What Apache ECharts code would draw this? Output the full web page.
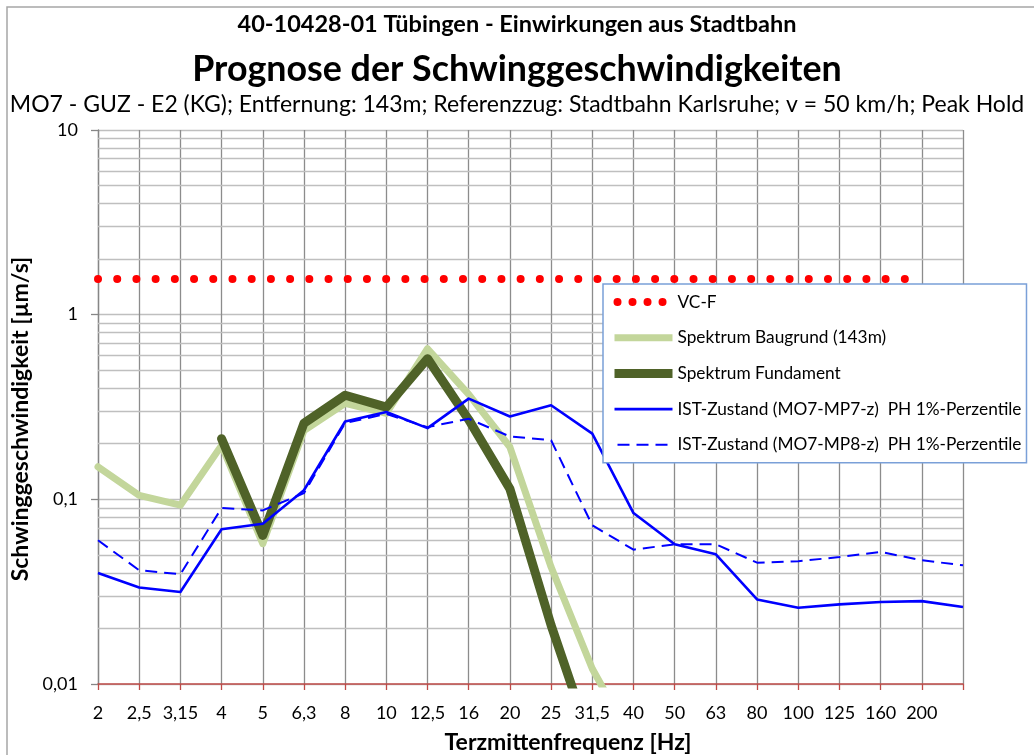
<!DOCTYPE html>
<html>
<head>
<meta charset="utf-8">
<script src="https://cdn.jsdelivr.net/npm/echarts@6/dist/echarts.min.js"></script>
<style>
  html, body { margin: 0; padding: 0; background: #ffffff; }
  #chart { width: 1034px; height: 755px; }
</style>
</head>
<body>
<div id="chart"></div>
<script>
// Terzmittenfrequenzen (Hz) – last tick is unlabeled
const frequencies = ['2', '2,5', '3,15', '4', '5', '6,3', '8', '10', '12,5', '16', '20',
  '25', '31,5', '40', '50', '63', '80', '100', '125', '160', '200', ''];

// Schwinggeschwindigkeit in µm/s
const vcF = [1.56, 1.56, 1.56, 1.56, 1.56, 1.56, 1.56, 1.56, 1.56, 1.56, 1.56,
  1.56, 1.56, 1.56, 1.56, 1.56, 1.56, 1.56, 1.56, 1.56, 1.56, '-'];
const spektrumBaugrund = [0.150, 0.105, 0.093, 0.196, 0.0575, 0.236, 0.331, 0.292, 0.654, 0.37, 0.192,
  0.043, 0.0121, 0.0048, '-', '-', '-', '-', '-', '-', '-', '-'];
const spektrumFundament = ['-', '-', '-', 0.213, 0.0638, 0.258, 0.366, 0.316, 0.578, 0.27, 0.114,
  0.0208, 0.0046, '-', '-', '-', '-', '-', '-', '-', '-', '-'];
const istMP7 = [0.0399, 0.0333, 0.0315, 0.0688, 0.0738, 0.112, 0.264, 0.297, 0.243, 0.351, 0.281,
  0.323, 0.227, 0.0843, 0.0571, 0.0504, 0.0287, 0.0259, 0.0270, 0.0278, 0.0281, 0.0261];
const istMP8 = [0.060, 0.0413, 0.0393, 0.0897, 0.0871, 0.108, 0.259, 0.29, 0.246, 0.273, 0.219,
  0.209, 0.0723, 0.0534, 0.0571, 0.0571, 0.0454, 0.0462, 0.0487, 0.0519, 0.0468, 0.0439];

// y-axis tick labels (German decimal comma)
const yTickLabels = { '0.01': '0,01', '0.1': '0,1', '1': '1', '10': '10' };
const decades = [0.01, 0.1, 1];

const seriesNames = [
  'VC-F',
  'Spektrum Baugrund (143m)',
  'Spektrum Fundament',
  'IST-Zustand (MO7-MP7-z)  PH 1%-Perzentile',
  'IST-Zustand (MO7-MP8-z)  PH 1%-Perzentile'
];

// intermediate log gridlines 2..9 within each decade
const minorGrid = [];
decades.forEach(function (d) {
  for (let k = 2; k <= 9; k++) minorGrid.push({ yAxis: +(d * k).toPrecision(3) });
});

// legend entries: the dotted VC-F entry keeps round caps (four dots in its key)
const legendEntries = seriesNames.map(function (n, i) {
  return i === 0
    ? { name: n, lineStyle: { cap: 'round', type: [0.01, 15], dashOffset: -3 } }
    : { name: n };
});

const FONT = 'Lato';
const chart = echarts.init(document.getElementById('chart'), null, { renderer: 'canvas' });

chart.setOption({
  animation: false,
  backgroundColor: '#ffffff',
  textStyle: { fontFamily: FONT, color: '#000000' },
  graphic: [{
    type: 'rect', silent: true, z: -1,
    shape: { x: 7, y: 7, width: 1100, height: 800 },
    style: { fill: 'none', stroke: '#a6a6a6', lineWidth: 1.5 }
  }],
  title: [
    {
      text: '40-10428-01 Tübingen - Einwirkungen aus Stadtbahn',
      left: 'center', top: 12, padding: 0,
      textStyle: { fontFamily: FONT, fontSize: 23.5, fontWeight: 'bold', color: '#000', lineHeight: 24 }
    },
    {
      text: 'Prognose der Schwinggeschwindigkeiten',
      left: 'center', top: 51, padding: 0,
      textStyle: { fontFamily: FONT, fontSize: 35.8, fontWeight: 'bold', color: '#000', lineHeight: 36 }
    },
    {
      text: 'MO7 - GUZ - E2 (KG); Entfernung: 143m; Referenzzug: Stadtbahn Karlsruhe; v = 50 km/h; Peak Hold',
      left: 'center', top: 93, padding: 0,
      textStyle: { fontFamily: FONT, fontSize: 23, fontWeight: 'normal', color: '#000', lineHeight: 24 }
    }
  ],
  legend: {
    data: legendEntries,
    orient: 'vertical',
    left: 603, top: 284,
    padding: [9, 5, 9, 7],
    itemGap: 17.7,
    itemWidth: 58,
    itemHeight: 14,
    backgroundColor: '#ffffff',
    borderColor: '#7aa0d8',
    borderWidth: 1.5,
    borderRadius: 0,
    selectedMode: false,
    itemStyle: { opacity: 0, borderWidth: 0 },
    lineStyle: { width: 'inherit', type: 'inherit', cap: 'butt' },
    textStyle: { fontFamily: FONT, fontSize: 17.3, lineHeight: 18, color: '#000' },
    z: 10
  },
  grid: { left: 98, right: 71, top: 130, bottom: 71, containLabel: false, outerBoundsMode: 'none' },
  xAxis: {
    type: 'category',
    data: frequencies,
    boundaryGap: false,
    name: 'Terzmittenfrequenz [Hz]',
    nameLocation: 'middle',
    nameGap: 47,
    nameTextStyle: { fontFamily: FONT, fontSize: 23, fontWeight: 'bold', color: '#000', padding: [0, 0, 0, 75] },
    axisLine: { show: true, lineStyle: { color: '#be4b48', width: 1.5 } },
    axisTick: { show: true, length: 6, interval: 0, lineStyle: { color: '#be4b48', width: 1.3 } },
    axisLabel: { interval: 0, margin: 20, fontSize: 18, color: '#000', fontFamily: FONT },
    splitLine: { show: true, interval: 0, lineStyle: { color: '#8c8c8c', width: 1.3 } }
  },
  yAxis: {
    type: 'log',
    logBase: 10,
    min: 0.01,
    max: 10,
    name: 'Schwinggeschwindigkeit [µm/s]',
    nameLocation: 'middle',
    nameGap: 55,
    nameTextStyle: { fontFamily: FONT, fontSize: 23, fontWeight: 'bold', color: '#000', padding: [0, 24, 0, 0] },
    axisLine: { show: true, lineStyle: { color: '#868686', width: 1.3 } },
    axisTick: { show: true, length: 7, lineStyle: { color: '#868686', width: 1.3 } },
    axisLabel: {
      margin: 20, fontSize: 18, color: '#000', fontFamily: FONT,
      formatter: function (v) {
        const key = String(+v.toPrecision(1));
        return yTickLabels[key] !== undefined ? yTickLabels[key] : key.replace('.', ',');
      }
    },
    splitLine: { show: true, lineStyle: { color: '#bfbfbf', width: 1.3 } }
  },
  series: [
    {
      name: 'minor-grid',
      type: 'line',
      data: frequencies.map(function () { return '-'; }),
      silent: true,
      z: 1,
      symbol: 'none',
      markLine: {
        silent: true,
        z: 1,
        symbol: ['none', 'none'],
        label: { show: false },
        emphasis: { disabled: true },
        lineStyle: { color: '#bfbfbf', width: 1.3, type: 'solid' },
        data: minorGrid
      }
    },
    {
      name: seriesNames[0],
      type: 'line',
      data: vcF,
      symbol: 'none',
      z: 2,
      itemStyle: { color: '#ff0000' },
      lineStyle: { color: '#ff0000', width: 8, type: [0.01, 19.2], cap: 'round' }
    },
    {
      name: seriesNames[1],
      type: 'line',
      data: spektrumBaugrund,
      symbol: 'none',
      z: 3,
      itemStyle: { color: '#c3d69b' },
      lineStyle: { color: '#c3d69b', width: 7, cap: 'round', join: 'round' }
    },
    {
      name: seriesNames[2],
      type: 'line',
      data: spektrumFundament,
      symbol: 'none',
      z: 4,
      itemStyle: { color: '#4f6228' },
      lineStyle: { color: '#4f6228', width: 9, cap: 'round', join: 'round' }
    },
    {
      name: seriesNames[3],
      type: 'line',
      data: istMP7,
      symbol: 'none',
      z: 5,
      itemStyle: { color: '#0000ff' },
      lineStyle: { color: '#0000ff', width: 2.6, join: 'round' }
    },
    {
      name: seriesNames[4],
      type: 'line',
      data: istMP8,
      symbol: 'none',
      z: 5,
      itemStyle: { color: '#0000ff' },
      lineStyle: { color: '#0000ff', width: 2, type: [12, 7] }
    }
  ]
});
</script>
</body>
</html>
